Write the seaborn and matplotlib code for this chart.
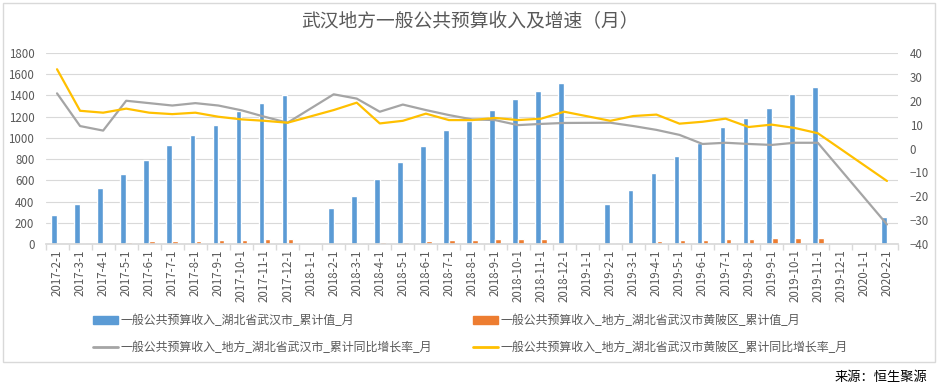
import numpy as np
import pandas as pd
import matplotlib
matplotlib.use("Agg")
import matplotlib.pyplot as plt
from matplotlib.patches import Patch, Rectangle
from matplotlib.lines import Line2D
import seaborn as sns

# ── Data ────────────────────────────────────────────────────────────────────
dates = [f"{y}-{m}-1" for y, m in
         [(2017, m) for m in range(2, 13)] + [(2018, m) for m in range(1, 13)] +
         [(2019, m) for m in range(1, 13)] + [(2020, 1), (2020, 2)]]

nan = np.nan
wuhan_cum = [270, 380, 530, 655, 795, 935, 1030, 1125, 1250, 1325, 1400,
             nan, 335, 455, 615, 775, 925, 1070, 1155, 1260, 1370, 1440, 1520,
             nan, 375, 505, 670, 825, 950, 1100, 1185, 1285, 1410, 1480, nan,
             nan, 255]
huangpi_cum = [nan, 8, 10, 18, 25, 28, 28, 38, 40, 48, 50,
               nan, nan, 5, 15, 18, 25, 35, 38, 45, 48, 48, 6,
               nan, 6, 5, 25, 35, 38, 45, 45, 55, 57, 57, nan,
               nan, nan]
wuhan_yoy = [23.1, 9.4, 7.5, 20.0, 19.0, 18.0, 19.0, 18.0, 16.0, 13.3, 10.8,
             nan, 22.7, 20.9, 15.4, 18.4, 16.1, 14.0, 12.2, 11.9, 9.8, 10.3, 10.7,
             nan, 10.8, 9.4, 7.8, 5.7, 1.9, 2.4, 1.9, 1.5, 2.4, 2.4, nan,
             nan, -31.8]
huangpi_yoy = [33.2, 15.8, 15.0, 16.7, 15.0, 14.4, 15.0, 13.3, 12.2, 11.6, 10.8,
               nan, 16.1, 19.2, 10.5, 11.6, 14.6, 11.9, 11.9, 12.8, 11.9, 12.5, 15.4,
               nan, 11.6, 13.6, 14.2, 10.4, 11.2, 12.5, 9.0, 10.0, 8.6, 6.4, nan,
               nan, -13.6]

labels = ["一般公共预算收入_湖北省武汉市_累计值_月",
          "一般公共预算收入_地方_湖北省武汉市黄陂区_累计值_月",
          "一般公共预算收入_地方_湖北省武汉市_累计同比增长率_月",
          "一般公共预算收入_地方_湖北省武汉市黄陂区_累计同比增长率_月"]

BLUE, ORANGE, GRAY, YELLOW = "#5B9BD5", "#ED7D31", "#A5A5A5", "#FFC000"
TXT = "#595959"
GRID = "#D9D9D9"

sns.set_theme(style="white")
plt.rcParams['font.family'] = ['Noto Sans CJK SC', 'DejaVu Sans']

bars = pd.DataFrame({
    "date": dates * 2,
    "value": wuhan_cum + huangpi_cum,
    "series": [labels[0]] * len(dates) + [labels[1]] * len(dates),
})

fig = plt.figure(figsize=(9.39, 3.88), dpi=100)
ax = fig.add_axes([45.5 / 939, 1 - 244 / 388, 853 / 939, 191 / 388])

sns.barplot(data=bars, x="date", y="value", hue="series", order=dates,
            hue_order=labels[:2], palette=[BLUE, ORANGE], saturation=1,
            width=0.52, gap=0.05, errorbar=None, legend=False, ax=ax)

ax.set_xlim(-0.5, len(dates) - 0.5)
ax.set_ylim(0, 1800)
ax.set_yticks(range(0, 1801, 200))
ax.grid(axis='y', color=GRID, linewidth=0.8)
ax.set_axisbelow(True)
ax.set_xticks(range(len(dates)))
ax.set_xticklabels(dates, rotation=90)
ax.set_xticks(np.arange(-0.5, len(dates), 1), minor=True)
ax.tick_params(axis='x', which='major', length=0, pad=4, labelsize=8.3, labelcolor=TXT)
ax.tick_params(axis='x', which='minor', length=4, color=GRID, bottom=True)
ax.tick_params(axis='y', length=0, pad=8, labelsize=8.3, labelcolor=TXT)
ax.set_xlabel("")
ax.set_ylabel("")
for s in ['top', 'left', 'right']:
    ax.spines[s].set_visible(False)
ax.spines['bottom'].set_color(GRID)

ax2 = ax.twinx()
for vals, col in [(wuhan_yoy, GRAY), (huangpi_yoy, YELLOW)]:
    s = pd.Series(vals, index=range(len(dates))).dropna()
    sns.lineplot(x=s.index, y=s.values, color=col, linewidth=1.6, ax=ax2)
ax2.set_ylim(-40, 40)
ax2.set_yticks(range(-40, 41, 10))
ax2.tick_params(axis='y', length=0, pad=8, labelsize=8.3, labelcolor=TXT)
ax2.grid(False)
for s in ['top', 'left', 'right', 'bottom']:
    ax2.spines[s].set_visible(False)
ax.set_xlim(-0.5, len(dates) - 0.5)

# ── Title, legend, source ──────────────────────────────────────────────────
fig.text(470 / 939, 1 - 22 / 388, "武汉地方一般公共预算收入及增速（月）",
         ha='center', va='center', fontsize=13.5, color=TXT)

handles = [Patch(color=BLUE), Line2D([], [], color=GRAY, lw=2),
           Patch(color=ORANGE), Line2D([], [], color=YELLOW, lw=2)]
leg_labels = [labels[0], labels[2], labels[1], labels[3]]
leg = fig.legend(handles, leg_labels, ncol=2, loc='upper left',
                 bbox_to_anchor=(93 / 939, 1 - 314 / 388), frameon=False,
                 borderpad=0, borderaxespad=0,
                 fontsize=8.6, handlelength=2.1, handleheight=0.6,
                 handletextpad=0.2, columnspacing=3.4, labelspacing=1.15)
for t in leg.get_texts():
    t.set_color(TXT)

fig.patches.append(Rectangle((3 / 939, 1 - 362 / 388), 932 / 939, 359 / 388,
                             transform=fig.transFigure, fill=False,
                             edgecolor=GRID, linewidth=1))
fig.text(927 / 939, 1 - 377 / 388, "来源：恒生聚源", ha='right', va='center',
         fontsize=9.5, color='black')

fig.savefig("out.png", dpi=100)
